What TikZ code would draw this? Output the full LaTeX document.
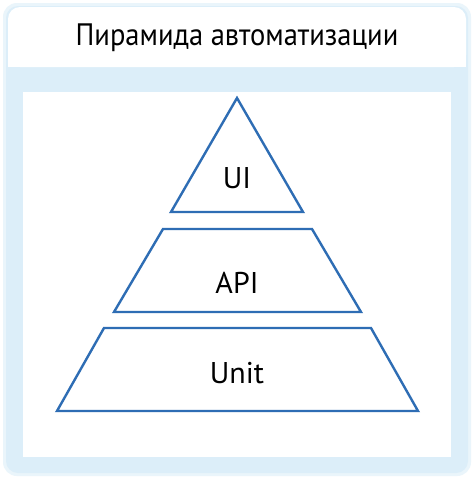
\documentclass[tikz,border=0pt]{standalone}
\usepackage{fontspec}
\setmainfont{PT Sans}
\definecolor{cardblue}{HTML}{DCEEF9}
\definecolor{pyrblue}{HTML}{2E6DB4}
\begin{document}
\begin{tikzpicture}[x=1pt,y=-1pt,
  layer/.style={draw=pyrblue,line width=2.4pt,fill=white,line join=miter},
  lbl/.style={font=\fontsize{30}{32}\selectfont,text=black,inner sep=0pt}]
\useasboundingbox (0,0) rectangle (474,479);
\fill[white] (0,0) rectangle (474,479);
% card
\fill[cardblue!60,rounded corners=14pt] (3,3) rectangle (471,476);
\fill[cardblue,rounded corners=12pt] (6,6) rectangle (468,473);
\fill[white,rounded corners=12pt] (8,7) -- (8,67) -- (466,67) -- (466,7) -- cycle;
\fill[white] (8,30) rectangle (466,67);
\fill[white] (23,92) rectangle (451,457);
\node[font=\fontsize{31}{33}\selectfont,inner sep=0pt,xscale=0.92] (title) at (237,38) {Пирамида автоматизации};
% pyramid
\draw[layer] (237,98) -- (303,212) -- (171,212) -- cycle;
\draw[layer] (163,229) -- (312,229) -- (361,312) -- (114,312) -- cycle;
\draw[layer] (104,328) -- (371,328) -- (418,411) -- (57,411) -- cycle;
\node[lbl] (ui) at (237,178) {UI};
\node[lbl] (api) at (237,283) {API};
\node[lbl] (unit) at (237,373) {Unit};
\end{tikzpicture}
\end{document}
